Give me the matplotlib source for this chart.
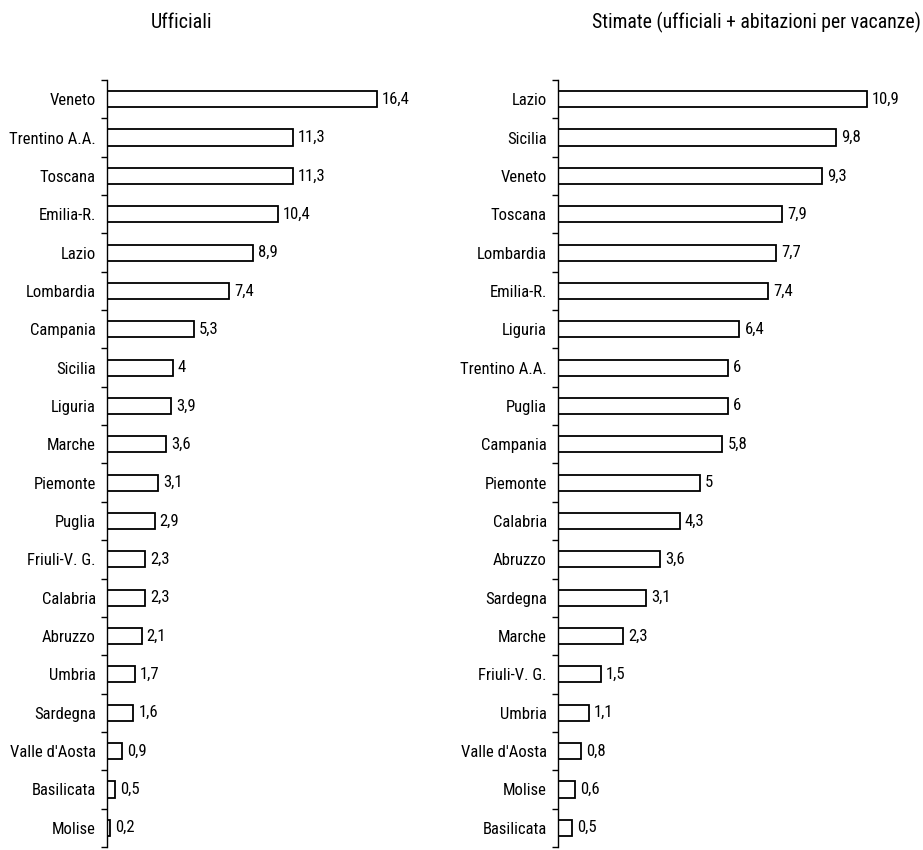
import matplotlib
matplotlib.use("Agg")
import matplotlib.pyplot as plt
import numpy as np

plt.rcParams['font.family'] = ['Roboto Condensed', 'Liberation Sans', 'DejaVu Sans']

# presenze turistiche per regione (%)
reg_uff = ["Veneto", "Trentino A.A.", "Toscana", "Emilia-R.", "Lazio", "Lombardia",
           "Campania", "Sicilia", "Liguria", "Marche", "Piemonte", "Puglia",
           "Friuli-V. G.", "Calabria", "Abruzzo", "Umbria", "Sardegna",
           "Valle d'Aosta", "Basilicata", "Molise"]
val_uff = [16.4, 11.3, 11.3, 10.4, 8.9, 7.4, 5.3, 4, 3.9, 3.6, 3.1, 2.9,
           2.3, 2.3, 2.1, 1.7, 1.6, 0.9, 0.5, 0.2]

reg_stim = ["Lazio", "Sicilia", "Veneto", "Toscana", "Lombardia", "Emilia-R.",
            "Liguria", "Trentino A.A.", "Puglia", "Campania", "Piemonte",
            "Calabria", "Abruzzo", "Sardegna", "Marche", "Friuli-V. G.",
            "Umbria", "Valle d'Aosta", "Molise", "Basilicata"]
val_stim = [10.9, 9.8, 9.3, 7.9, 7.7, 7.4, 6.4, 6, 6, 5.8, 5, 4.3, 3.6, 3.1,
            2.3, 1.5, 1.1, 0.8, 0.6, 0.5]

W, H = 923, 850
fig = plt.figure(figsize=(W / 100, H / 100), dpi=100)


def pannello(x0, px_unit, xmax, regioni, valori):
    n = len(regioni)
    top, bot = 80, 847
    ax = fig.add_axes([x0 / W, 1 - bot / H, xmax * px_unit / W, (bot - top) / H])
    y = np.arange(n)
    ax.barh(y, valori, height=0.42, color="white", edgecolor="black", linewidth=1.3)
    for yi, v in zip(y, valori):
        ax.text(v + 5 / px_unit, yi, f"{v:g}".replace(".", ","), va="center",
                ha="left", fontsize=12)
    ax.set_xlim(0, xmax)
    ax.set_ylim(n - 0.5, -0.5)
    ax.set_yticks(y)
    ax.set_yticklabels(regioni, fontsize=12)
    # tacche tra una categoria e l'altra
    ax.set_yticks(np.arange(n + 1) - 0.5, minor=True)
    ax.tick_params(axis="y", which="major", length=0, pad=8)
    ax.tick_params(axis="y", which="minor", length=4, width=1, direction="out")
    ax.set_xticks([])
    for s in ["top", "right", "bottom"]:
        ax.spines[s].set_visible(False)
    ax.spines["left"].set_linewidth(1)
    return ax


pannello(107, 16.46, 20, reg_uff, val_uff)
pannello(558, 28.35, 12.5, reg_stim, val_stim)

fig.text(181 / W, 1 - 22 / H, "Ufficiali", ha="center", va="center", fontsize=14.5)
fig.text(756 / W, 1 - 22 / H, "Stimate (ufficiali + abitazioni per vacanze)",
         ha="center", va="center", fontsize=14.2)

fig.savefig("out.png", dpi=100)
